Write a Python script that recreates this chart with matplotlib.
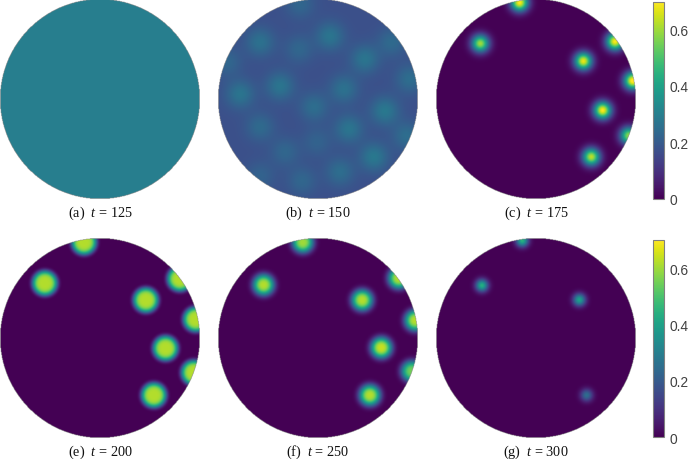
import matplotlib
matplotlib.use('Agg')
import matplotlib.pyplot as plt
import numpy as np

plt.rcParams['mathtext.fontset'] = 'custom'
plt.rcParams['mathtext.rm'] = 'Liberation Serif'
plt.rcParams['mathtext.it'] = 'Liberation Serif:italic'

captions = ['(a)  $t$ = 125', '(b)  $t$ = 150', '(c)  $t$ = 175',
            '(e)  $t$ = 200', '(f)  $t$ = 250', '(g)  $t$ = 300']
cbar_ticks = [0, 0.2, 0.4, 0.6]
cbar_labels = ['0', '0.2', '0.4', '0.6']
vmax = 0.7

# background level of each panel
levels = [0.30, 0.17, 0.0, 0.0, 0.0, 0.0]

# spots, x and y on the unit disc
spots_b_x = [-0.58, -0.19, 0.12, 0.47, 0.74, -0.38, -0.78, 0.26, -0.04, 0.67, -0.58, 0.31, 0.56, -0.01, 0.22, -0.16, -0.58, -0.33, 0.92, -0.91, -0.18, 0.89]
spots_b_y = [0.57, 0.50, 0.63, 0.40, 0.57, 0.13, 0.05, 0.10, -0.08, -0.12, -0.28, -0.30, -0.58, -0.43, -0.73, -0.82, -0.77, -0.53, 0.20, 0.37, 0.95, -0.37]
spots_b_a = [0.09, 0.06, 0.10, 0.10, 0.07, 0.10, 0.10, 0.09, 0.08, 0.11, 0.07, 0.10, 0.11, 0.05, 0.08, 0.06, 0.05, 0.06, 0.08, 0.06, 0.06, 0.08]

spots_c_x = [-0.165, -0.558, 0.792, 0.475, 0.97, 0.668, 0.93, 0.555]
spots_c_y = [0.967, 0.557, 0.577, 0.38, 0.183, -0.113, -0.367, -0.58]
spots_c_a = [0.70, 0.60, 0.70, 0.68, 0.72, 0.70, 0.58, 0.63]

spots_e_x = [-0.16, -0.553, 0.80, 0.46, 0.96, 0.657, 0.94, 0.54]
spots_e_y = [0.96, 0.55, 0.593, 0.38, 0.187, -0.103, -0.347, -0.573]
spots_e_a = [0.62] * 8

spots_f_x = [-0.152, -0.545, 0.81, 0.443, 0.975, 0.635, 0.94, 0.52]
spots_f_y = [0.96, 0.533, 0.6, 0.38, 0.177, -0.097, -0.333, -0.573]
spots_f_a = [0.60, 0.62, 0.62, 0.62, 0.62, 0.64, 0.55, 0.62]

spots_g_x = [-0.138, -0.542, 0.435, 0.508]
spots_g_y = [0.977, 0.527, 0.383, -0.573]
spots_g_a = [0.45, 0.44, 0.40, 0.25]

spots_x = [[], spots_b_x, spots_c_x, spots_e_x, spots_f_x, spots_g_x]
spots_y = [[], spots_b_y, spots_c_y, spots_e_y, spots_f_y, spots_g_y]
spots_a = [[], spots_b_a, spots_c_a, spots_e_a, spots_f_a, spots_g_a]
# spot width and how flat its top is
widths = [0.1, 0.14, 0.085, 0.125, 0.105, 0.06]
powers = [2, 2, 2, 5, 3, 2]

# disc centres in pixels
cx = [100, 318, 536, 100, 318, 536]
cy = [100, 100, 100, 339, 339, 339]
R = 100

W, H = 690, 460
fig = plt.figure(figsize=(W / 100, H / 100), dpi=100)

g = np.linspace(-1, 1, 400)
X, Y = np.meshgrid(g, g)
rr = np.sqrt(X ** 2 + Y ** 2)

for i in range(6):
    Z = np.full(X.shape, levels[i], dtype=float)
    for x0, y0, a in zip(spots_x[i], spots_y[i], spots_a[i]):
        d = np.sqrt((X - x0) ** 2 + (Y - y0) ** 2)
        Z += a * np.exp(-(d / widths[i]) ** powers[i])
    Z = np.ma.masked_where(rr > 1, Z)

    ax = fig.add_axes([(cx[i] - R) / W, 1 - (cy[i] + R) / H, 2 * R / W, 2 * R / H])
    im = ax.imshow(Z, origin='lower', extent=[-1, 1, -1, 1], cmap='viridis',
                   vmin=0, vmax=vmax, interpolation='bilinear')
    ax.axis('off')
    fig.text(cx[i] / W, 1 - (cy[i] + 113.5) / H, captions[i], ha='center', va='center',
             family='Liberation Serif', fontsize=10.3, color='#111111')

# colorbars
for top, bottom in [(2.5, 199.5), (241, 438)]:
    cax = fig.add_axes([652.5 / W, 1 - bottom / H, 11.5 / W, (bottom - top) / H])
    cb = fig.colorbar(im, cax=cax)
    cb.set_ticks(cbar_ticks)
    cb.set_ticklabels(cbar_labels)
    cb.ax.tick_params(length=0, pad=4, labelsize=9.9, labelcolor='#404040')
    for label in cb.ax.get_yticklabels():
        label.set_family('Liberation Sans')
    cb.outline.set_edgecolor('#808080')
    cb.outline.set_linewidth(0.8)

fig.savefig('out.png', dpi=100)
